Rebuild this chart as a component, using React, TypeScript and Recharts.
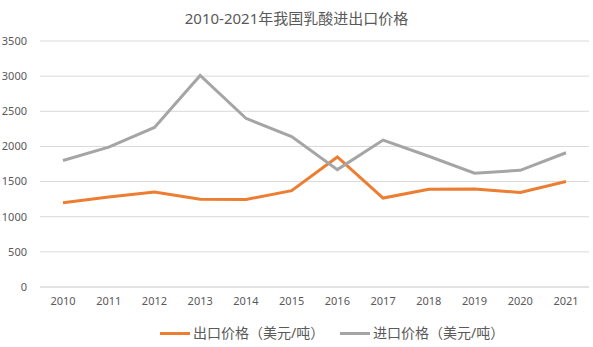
import React from "react";
import { LineChart, Line, XAxis, YAxis, CartesianGrid, Legend } from "recharts";

const years = ["2010", "2011", "2012", "2013", "2014", "2015", "2016", "2017", "2018", "2019", "2020", "2021"];
const exportPrice = [1200, 1280, 1350, 1250, 1245, 1370, 1850, 1265, 1390, 1395, 1345, 1500];
const importPrice = [1800, 1990, 2270, 3010, 2400, 2140, 1670, 2090, 1860, 1620, 1660, 1910];
const yTicks = [0, 500, 1000, 1500, 2000, 2500, 3000, 3500];

const EXPORT_NAME = "出口价格（美元/吨）";
const IMPORT_NAME = "进口价格（美元/吨）";

const data = years.map((y, i) => ({ year: y, exp: exportPrice[i], imp: importPrice[i] }));

const FONT = "'Noto Sans', 'Noto Sans CJK SC', sans-serif";
const TEXT = "#595959";

const LegendContent = (props: any) => {
  const payload = props.payload || [];
  return (
    <div style={{ display: "flex", justifyContent: "flex-start", alignItems: "center", height: 22, paddingLeft: 160, fontFamily: FONT }}>
      {payload.map((p: any, i: number) => (
        <div key={i} style={{ display: "flex", alignItems: "center", position: "absolute", left: i === 0 ? 160 : 340, top: 0, height: 22 }}>
          <div style={{ width: 30, height: 3, background: p.color, marginRight: 3 }} />
          <span style={{ fontSize: 14, color: TEXT, lineHeight: "22px", whiteSpace: "nowrap" }}>{p.value}</span>
        </div>
      ))}
    </div>
  );
};

export default function App() {
  return (
    <div style={{ position: "absolute", left: 0, top: 0, width: 593, height: 347, background: "#fff" }}>
      <div
        style={{
          position: "absolute",
          top: 7,
          left: 0,
          width: 593,
          textAlign: "center",
          fontFamily: FONT,
          fontSize: 15,
          lineHeight: "22px",
          color: TEXT,
        }}
      >
        2010-2021年我国乳酸进出口价格
      </div>
      <LineChart width={593} height={347} data={data} margin={{ top: 41, right: 4, bottom: 3, left: 0 }}>
        <CartesianGrid vertical={false} stroke="#d9d9d9" strokeWidth={1} />
        <XAxis
          dataKey="year"
          axisLine={{ stroke: "#d9d9d9" }}
          tickLine={false}
          height={35}
          tickMargin={4}
          padding={{ left: 23, right: 23 }}
          tick={{ fill: TEXT, fontSize: 11, fontFamily: FONT }}
        />
        <YAxis
          domain={[0, 3500]}
          ticks={yTicks}
          width={40}
          axisLine={false}
          tickLine={false}
          tickSize={6}
          tickMargin={7}
          tick={{ fill: TEXT, fontSize: 11, fontFamily: FONT }}
        />
        <Legend
          verticalAlign="bottom"
          height={22}
          wrapperStyle={{ left: 0, width: 593 }}
          content={<LegendContent />}
        />
        <Line
          type="linear"
          dataKey="exp"
          name={EXPORT_NAME}
          stroke="#ED7D31"
          strokeWidth={3}
          dot={false}
          activeDot={false}
          isAnimationActive={false}
        />
        <Line
          type="linear"
          dataKey="imp"
          name={IMPORT_NAME}
          stroke="#A5A5A5"
          strokeWidth={3}
          dot={false}
          activeDot={false}
          isAnimationActive={false}
        />
      </LineChart>
    </div>
  );
}
